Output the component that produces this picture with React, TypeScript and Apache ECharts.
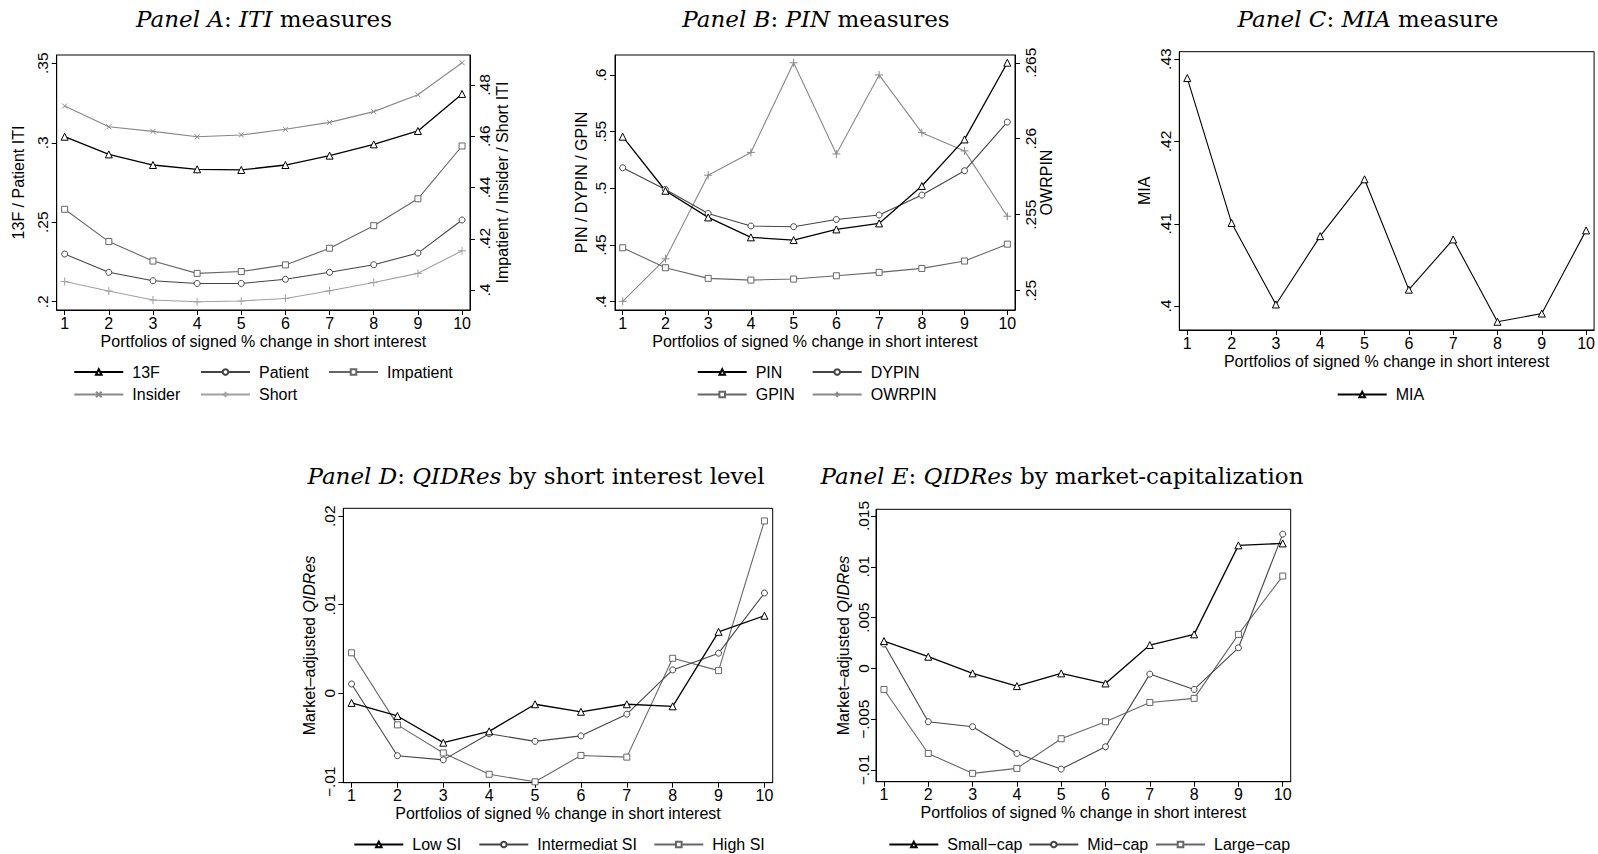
import React, { useEffect, useRef } from 'react';
import * as echarts from 'echarts';

// ---------- data ----------
const portfolios = [1, 2, 3, 4, 5, 6, 7, 8, 9, 10];

// Panel A: ITI measures
const itiLeftTicks = [0.2, 0.25, 0.3, 0.35];
const itiRightTicks = [0.4, 0.42, 0.44, 0.46, 0.48];
const iti13F = [0.3038, 0.2927, 0.286, 0.2833, 0.2829, 0.286, 0.2919, 0.299, 0.3074, 0.3307];
const itiPatient = [0.23, 0.2185, 0.2132, 0.2115, 0.2115, 0.2141, 0.2185, 0.2233, 0.2306, 0.2514];
const itiImpatient = [0.4315, 0.4189, 0.4113, 0.4065, 0.4072, 0.4098, 0.4163, 0.4251, 0.4356, 0.4562];
const itiInsider = [0.4718, 0.4637, 0.4619, 0.4598, 0.4605, 0.4627, 0.4654, 0.4696, 0.4762, 0.4887];
const itiShort = [0.4033, 0.3996, 0.3961, 0.3954, 0.3957, 0.3967, 0.3997, 0.4029, 0.4065, 0.4153];

// Panel B: PIN measures
const pinLeftTicks = [0.4, 0.45, 0.5, 0.55, 0.6];
const pinRightTicks = [0.25, 0.255, 0.26, 0.265];
const pinPIN = [0.5456, 0.4979, 0.4744, 0.4568, 0.4544, 0.4638, 0.4691, 0.5021, 0.5432, 0.6109];
const pinDYPIN = [0.5182, 0.4991, 0.4779, 0.4668, 0.4662, 0.4726, 0.4765, 0.4941, 0.5156, 0.5585];
const pinGPIN = [0.4476, 0.43, 0.4206, 0.4191, 0.42, 0.4229, 0.4259, 0.4294, 0.4359, 0.4508];
const pinOWRPIN = [0.2493, 0.2521, 0.2576, 0.2591, 0.265, 0.259, 0.2642, 0.2604, 0.2592, 0.2549];

// Panel C: MIA measure
const miaTicks = [0.4, 0.41, 0.42, 0.43];
const miaMIA = [0.4277, 0.4101, 0.4002, 0.4085, 0.4154, 0.402, 0.4081, 0.3981, 0.3991, 0.4092];

// Panel D: QIDRes by short interest level
const qdTicks = [-0.01, 0, 0.01, 0.02];
const qdLowSI = [-0.00109, -0.00256, -0.00558, -0.0043, -0.00124, -0.00209, -0.00124, -0.00147, 0.00694, 0.00876];
const qdIntSI = [0.00105, -0.00705, -0.00752, -0.00457, -0.00543, -0.00481, -0.00236, 0.00264, 0.00453, 0.01132];
const qdHighSI = [0.00457, -0.00357, -0.00674, -0.00915, -0.01, -0.00702, -0.00721, 0.00395, 0.00256, 0.01946];

// Panel E: QIDRes by market capitalization
const qeTicks = [-0.01, -0.005, 0, 0.005, 0.01, 0.015];
const qeSmall = [0.00269, 0.00115, -0.00049, -0.00174, -0.00049, -0.00148, 0.0023, 0.00335, 0.01211, 0.0123];
const qeMid = [0.0024, -0.00525, -0.00574, -0.00837, -0.00991, -0.00771, -0.00056, -0.00207, 0.00203, 0.01322];
const qeLarge = [-0.00207, -0.00837, -0.01033, -0.00984, -0.00692, -0.00525, -0.00335, -0.00295, 0.00335, 0.00909];

const xName = 'Portfolios of signed % change in short interest';

// ---------- styles ----------
const SANS = '"Liberation Sans", Arial, Helvetica, sans-serif';
const SERIF = '"DejaVu Serif", "Liberation Serif", serif';
const C1 = '#000000';
const C2 = '#444444';
const C3 = '#666666';
const C4 = '#888888';
const C5 = '#a0a0a0';

const SYM_TRI = 'triangle';
const SYM_CIR = 'circle';
const SYM_SQ = 'rect';
const SYM_X = 'path://M0,0L10,10M10,0L0,10';
const SYM_PLUS = 'path://M5,0L5,10M0,5L10,5';

function fmt(v: number): string {
  if (Math.abs(v) < 1e-12) return '0';
  let s = parseFloat(v.toFixed(4)).toString();
  s = s.replace(/^(-?)0\./, '$1.');
  return s.replace('-', '\u2212');
}

function mkLine(name: string, vals: number[], gi: number, yi: number, color: string, symbol: string, size: number, width = 1.1) {
  return {
    type: 'line',
    name,
    xAxisIndex: gi,
    yAxisIndex: yi,
    data: portfolios.map((p, i) => [p, vals[i]]),
    symbol,
    symbolSize: size,
    showSymbol: true,
    lineStyle: { color, width },
    itemStyle: { color: '#ffffff', borderColor: color, borderWidth: 1 },
    emphasis: { disabled: true },
    silent: true,
  };
}

function mkX(gi: number) {
  return {
    type: 'value',
    gridIndex: gi,
    min: 0.82,
    max: 10.18,
    name: xName,
    nameLocation: 'middle',
    nameGap: 23,
    nameTextStyle: { fontFamily: SANS, fontSize: 16, color: '#000' },
    axisLine: { show: true, onZero: false, lineStyle: { color: '#000', width: 1 } },
    axisTick: { show: true, length: 5, customValues: portfolios, lineStyle: { color: '#000' } },
    axisLabel: { customValues: portfolios, margin: 5, fontFamily: SANS, fontSize: 16, color: '#000' },
    splitLine: { show: false },
  };
}

function mkY(gi: number, min: number, max: number, ticks: number[], name: string, position: string, labelMargin: number, nameGap: number) {
  return {
    type: 'value',
    gridIndex: gi,
    position,
    min,
    max,
    name,
    nameLocation: 'middle',
    nameGap,
    nameTextStyle: {
      fontFamily: SANS,
      fontSize: 16,
      color: '#000',
      rich: { i: { fontStyle: 'italic', fontFamily: SANS, fontSize: 16, color: '#000' } },
    },
    axisLine: { show: true, onZero: false, lineStyle: { color: '#000', width: 1 } },
    axisTick: { show: true, length: 5, customValues: ticks, lineStyle: { color: '#000' } },
    axisLabel: { customValues: ticks, rotate: 90, margin: labelMargin, formatter: fmt, fontFamily: SANS, fontSize: 15.5, color: '#000' },
    splitLine: { show: false },
  };
}

function mkLegend(name: string, left: number, rowY: number) {
  return {
    data: [name],
    left,
    top: rowY - 8,
    padding: 0,
    itemWidth: 49,
    itemHeight: 7,
    selectedMode: false,
    textStyle: { fontFamily: SANS, fontSize: 16, color: '#000', padding: [0, 0, 0, 4] },
  };
}

function mkTitle(text: string, cx: number, top: number) {
  return {
    text,
    left: cx,
    top,
    textAlign: 'center',
    padding: 0,
    textStyle: {
      fontFamily: SERIF,
      fontSize: 23,
      fontWeight: 'normal',
      color: '#000',
      rich: { i: { fontStyle: 'italic', fontFamily: SERIF, fontSize: 23, color: '#000' } },
    },
  };
}

export default function App() {
  const ref = useRef<HTMLDivElement>(null);

  useEffect(() => {
    document.body.style.margin = '0';
    if (!ref.current) return;
    const chart = echarts.init(ref.current, null, { renderer: 'svg' });
    const gridStyle = { show: true, borderColor: '#000', borderWidth: 1, backgroundColor: '#fff' };
    const option = {
      animation: false,
      backgroundColor: '#ffffff',
      title: [
        mkTitle('{i|Panel A}: {i|ITI} measures', 264, 7),
        mkTitle('{i|Panel B}: {i|PIN} measures', 816, 7),
        mkTitle('{i|Panel C}: {i|MIA} measure', 1368, 7),
        mkTitle('{i|Panel D}: {i|QIDRes} by short interest level', 536, 464),
        mkTitle('{i|Panel E}: {i|QIDRes} by market-capitalization', 1062, 464),
      ],
      grid: [
        { left: 56.7, top: 55, width: 413.3, height: 255, ...gridStyle },
        { left: 615, top: 55, width: 400, height: 255, ...gridStyle },
        { left: 1179.3, top: 51.7, width: 417.4, height: 278.3, ...gridStyle },
        { left: 343.3, top: 508.3, width: 429.4, height: 274.4, ...gridStyle },
        { left: 876, top: 509.3, width: 414.7, height: 272.4, ...gridStyle },
      ],
      xAxis: [mkX(0), mkX(1), mkX(2), mkX(3), mkX(4)],
      yAxis: [
        mkY(0, 0.1948, 0.3552, itiLeftTicks, '13F / Patient ITI', 'left', 6, 30),
        mkY(0, 0.3922, 0.4917, itiRightTicks, 'Impatient / Insider / Short ITI', 'right', 6, 24),
        mkY(1, 0.3927, 0.6177, pinLeftTicks, 'PIN / DYPIN / GPIN', 'left', 7, 26),
        mkY(1, 0.24873, 0.26551, pinRightTicks, 'OWRPIN', 'right', 7, 23),
        mkY(2, 0.3971, 0.4309, miaTicks, 'MIA', 'left', 6, 27),
        mkY(3, -0.0101, 0.02089, qdTicks, 'Market\u2013adjusted {i|QIDRes}', 'left', 6, 26),
        mkY(4, -0.01115, 0.01566, qeTicks, 'Market\u2013adjusted {i|QIDRes}', 'left', 5, 25),
      ],
      legend: [
        mkLegend('13F', 73.3, 372),
        mkLegend('Patient', 200, 372),
        mkLegend('Impatient', 328, 372),
        mkLegend('Insider', 73.3, 394.5),
        mkLegend('Short', 200, 394.5),
        mkLegend('PIN', 696.7, 372),
        mkLegend('DYPIN', 811.7, 372),
        mkLegend('GPIN', 696.7, 394.5),
        mkLegend('OWRPIN', 811.7, 394.5),
        mkLegend('MIA', 1336.7, 394.5),
        mkLegend('Low SI', 353.3, 844.5),
        mkLegend('Intermediat SI', 478.3, 844.5),
        mkLegend('High SI', 653.3, 844.5),
        mkLegend('Small\u2212cap', 888.3, 844.5),
        mkLegend('Mid\u2212cap', 1028.3, 844.5),
        mkLegend('Large\u2212cap', 1155, 844.5),
      ],
      series: [
        mkLine('Short', itiShort, 0, 1, C5, SYM_PLUS, 8),
        mkLine('Insider', itiInsider, 0, 1, C4, SYM_X, 5),
        mkLine('Impatient', itiImpatient, 0, 1, C3, SYM_SQ, 6),
        mkLine('Patient', itiPatient, 0, 0, C2, SYM_CIR, 6),
        mkLine('13F', iti13F, 0, 0, C1, SYM_TRI, 7, 1.3),

        mkLine('OWRPIN', pinOWRPIN, 1, 3, C4, SYM_PLUS, 8),
        mkLine('GPIN', pinGPIN, 1, 2, C3, SYM_SQ, 6),
        mkLine('DYPIN', pinDYPIN, 1, 2, C2, SYM_CIR, 6),
        mkLine('PIN', pinPIN, 1, 2, C1, SYM_TRI, 7, 1.3),

        mkLine('MIA', miaMIA, 2, 4, C1, SYM_TRI, 7),

        mkLine('High SI', qdHighSI, 3, 5, C3, SYM_SQ, 6),
        mkLine('Intermediat SI', qdIntSI, 3, 5, C2, SYM_CIR, 6),
        mkLine('Low SI', qdLowSI, 3, 5, C1, SYM_TRI, 7, 1.3),

        mkLine('Large\u2212cap', qeLarge, 4, 6, C3, SYM_SQ, 6),
        mkLine('Mid\u2212cap', qeMid, 4, 6, C2, SYM_CIR, 6),
        mkLine('Small\u2212cap', qeSmall, 4, 6, C1, SYM_TRI, 7, 1.3),
      ],
    };
    chart.setOption(option as any);
    return () => {
      chart.dispose();
    };
  }, []);

  return <div ref={ref} style={{ width: 1598, height: 854, background: '#fff' }} />;
}
